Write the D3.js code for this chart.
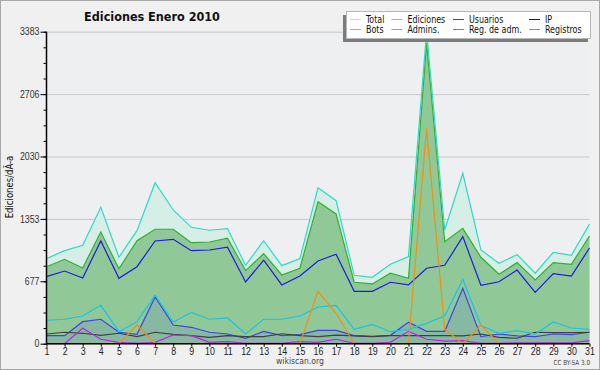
<!DOCTYPE html>
<html>
<head>
<meta charset="utf-8">
<script src="https://cdn.jsdelivr.net/npm/d3@7"></script>
<style>
  body { margin: 0; background: #f0f0f0; }
  svg { display: block; font-family: "DejaVu Sans Condensed", "DejaVu Sans", sans-serif; }
</style>
</head>
<body>
<div id="chart"></div>
<script>
// days of the month
var days = d3.range(1, 32);

// series
var total     = [922,1009,1067,1479,937,1226,1746,1450,1262,1230,1248,850,1117,846,922,1692,1551,742,720,861,944,3383,1233,1848,1016,872,965,764,991,959,1298];
var ediciones = [835,915,821,1211,813,1117,1241,1241,1095,1103,1143,792,976,745,818,1540,1407,666,648,764,709,3260,1106,1251,937,753,879,691,879,861,1168];
var usuarios  = [727,788,713,1114,709,835,1114,1132,1009,1016,1046,669,905,637,734,897,970,568,568,666,637,818,850,1161,633,672,799,557,759,734,1038];
var ip        = [105,124,113,91,113,76,124,102,87,69,87,76,76,108,87,76,94,84,76,87,87,87,87,84,105,69,59,124,120,120,124];
var bots      = [0,0,0,0,0,203,0,0,0,0,0,0,0,0,0,568,330,0,0,0,0,2336,156,0,203,0,0,0,0,0,0];
var admins    = [254,265,300,416,130,239,525,235,340,265,279,105,265,265,300,398,416,156,210,130,156,221,300,698,199,113,141,105,235,170,156];
var regAdm    = [0,0,167,48,15,5,15,94,87,15,22,5,5,5,22,15,48,5,5,15,134,48,29,33,5,5,10,10,10,10,33];
var registros = [87,87,239,265,124,102,507,203,178,124,105,59,134,87,98,145,145,87,80,91,232,134,134,601,76,105,84,76,105,98,124];

var yTicks = [0, 677, 1353, 2030, 2706, 3383];
var yMax = 3383;

var width = 600, height = 370;

var svg = d3.select("#chart").append("svg")
    .attr("width", width)
    .attr("height", height);

// squeeze text horizontally, the original font is narrower
var condense = function(sel, f) {
    sel.each(function() {
        var w = this.getComputedTextLength();
        d3.select(this).attr("textLength", w * f).attr("lengthAdjust", "spacingAndGlyphs");
    });
};

// frame
svg.append("rect")
    .attr("x", 0.5).attr("y", 0.5)
    .attr("width", width - 1).attr("height", height - 1)
    .attr("fill", "#f0f0f0")
    .attr("stroke", "#a8a8a8");

var x = d3.scaleLinear().domain([1, 31]).range([46.5, 589.5]);
var y = d3.scaleLinear().domain([0, yMax]).range([343.7, 31.7]);

// plot background
svg.append("rect")
    .attr("x", x(1)).attr("y", y(yMax))
    .attr("width", x(31) - x(1)).attr("height", y(0) - y(yMax))
    .attr("fill", "#eeeff1");

// grid
svg.append("g")
    .attr("transform", "translate(" + x(1) + ",0)")
    .call(d3.axisLeft(y).tickValues(yTicks.slice(1)).tickSize(-(x(31) - x(1))).tickFormat(""))
    .call(function(g) {
        g.select(".domain").remove();
        g.selectAll(".tick line").attr("stroke", "#c8c8c8");
    });

var area = function(vals) {
    return d3.area()
        .x(function(d, i) { return x(days[i]); })
        .y0(y(0))
        .y1(function(d) { return y(d); })(vals);
};
var line = function(vals) {
    return d3.line()
        .x(function(d, i) { return x(days[i]); })
        .y(function(d) { return y(d); })(vals);
};

// filled series
svg.append("path").attr("d", area(total)).attr("fill", "#d5efe6");
svg.append("path").attr("d", area(ediciones)).attr("fill", "#90c898");
svg.append("path").attr("d", area(registros)).attr("fill", "#3a50e8").attr("fill-opacity", 0.12);

var series = [
    {name: "Total", vals: total, color: "#30d8c8", legend: "#a8e8e0"},
    {name: "Ediciones", vals: ediciones, color: "#30b030", legend: "#80d080"},
    {name: "Usuarios", vals: usuarios, color: "#1c1ce0", legend: "#3c3ce0"},
    {name: "IP", vals: ip, color: "#404040", legend: "#202020"},
    {name: "Bots", vals: bots, color: "#f09010", legend: "#f0a040"},
    {name: "Admins.", vals: admins, color: "#18c4e0", legend: "#40c8e8"},
    {name: "Reg. de adm.", vals: regAdm, color: "#c020e8", legend: "#c050e0"},
    {name: "Registros", vals: registros, color: "#4040f0", legend: "#8080e8"}
];

// draw lines (IP / registros / reg adm under the rest)
var order = [7, 3, 6, 5, 2, 1, 0, 4];
order.forEach(function(k) {
    var s = series[k];
    svg.append("path")
        .attr("d", line(s.vals))
        .attr("fill", "none")
        .attr("stroke", s.color)
        .attr("stroke-width", 1.2);
});

// y axis
svg.append("g")
    .attr("transform", "translate(" + x(1) + ",0)")
    .call(d3.axisLeft(y).tickValues(d3.range(0, 21).map(function(i) { return i * yMax / 20; }))
        .tickSize(3).tickFormat(""))
    .call(function(g) { g.select(".domain").remove(); });
svg.append("g")
    .attr("transform", "translate(" + x(1) + ",0)")
    .call(d3.axisLeft(y).tickValues(yTicks).tickSize(6).tickPadding(1).tickFormat(d3.format("d")))
    .call(function(g) {
        g.select(".domain").attr("stroke-width", 1.5).attr("d", "M0," + y(yMax) + "V" + y(0));
        g.selectAll(".tick text").attr("font-size", 10).attr("fill", "#333").style("font-family", "inherit")
            .call(condense, 0.88);
    });

// x axis
svg.append("g")
    .attr("transform", "translate(0," + y(0) + ")")
    .call(d3.axisBottom(x).tickValues(days).tickSize(3).tickPadding(1).tickFormat(d3.format("d")))
    .call(function(g) {
        g.select(".domain").attr("stroke-width", 1.5).attr("d", "M" + x(1) + ",0H" + x(31));
        g.selectAll(".tick text").attr("font-size", 10).attr("fill", "#222").style("font-family", "inherit")
            .call(condense, 0.88);
    });

// title
svg.append("text")
    .attr("x", 152).attr("y", 21)
    .attr("text-anchor", "middle")
    .attr("font-size", 12.5)
    .attr("font-weight", "bold")
    .attr("fill", "#111")
    .text("Ediciones  Enero 2010");

// y label
svg.append("text")
    .attr("transform", "translate(13,187) rotate(-90)")
    .attr("text-anchor", "middle")
    .attr("font-size", 10.5)
    .attr("fill", "#111")
    .text("Ediciones/dÃ-a")
    .call(condense, 0.9);

svg.append("text")
    .attr("x", 300).attr("y", 364)
    .attr("text-anchor", "middle")
    .attr("font-size", 9.5)
    .attr("fill", "#444")
    .text("wikiscan.org")
    .call(condense, 0.9);

svg.append("text")
    .attr("x", 590).attr("y", 365)
    .attr("text-anchor", "end")
    .attr("font-size", 7)
    .attr("fill", "#444")
    .text("CC BY-SA 3.0")
    .call(condense, 0.9);

// legend
var lg = svg.append("g");
lg.append("rect")
    .attr("x", 343).attr("y", 15)
    .attr("width", 245).attr("height", 27)
    .attr("fill", "#7c7c7c");
lg.append("rect")
    .attr("x", 346.5).attr("y", 11.5)
    .attr("width", 244).attr("height", 27)
    .attr("fill", "#fff")
    .attr("stroke", "#b8b8b8");

var colX = [350, 391.5, 453, 529];
series.forEach(function(s, i) {
    var cx = colX[i % 4];
    var cy = i < 4 ? 19.5 : 29.5;
    lg.append("line")
        .attr("x1", cx).attr("x2", cx + 11)
        .attr("y1", cy).attr("y2", cy)
        .attr("stroke", s.legend);
    lg.append("text")
        .attr("x", cx + 16).attr("y", cy + 3.8)
        .attr("font-size", 10.5)
        .attr("fill", "#111")
        .text(s.name)
        .call(condense, 0.84);
});
</script>
</body>
</html>
